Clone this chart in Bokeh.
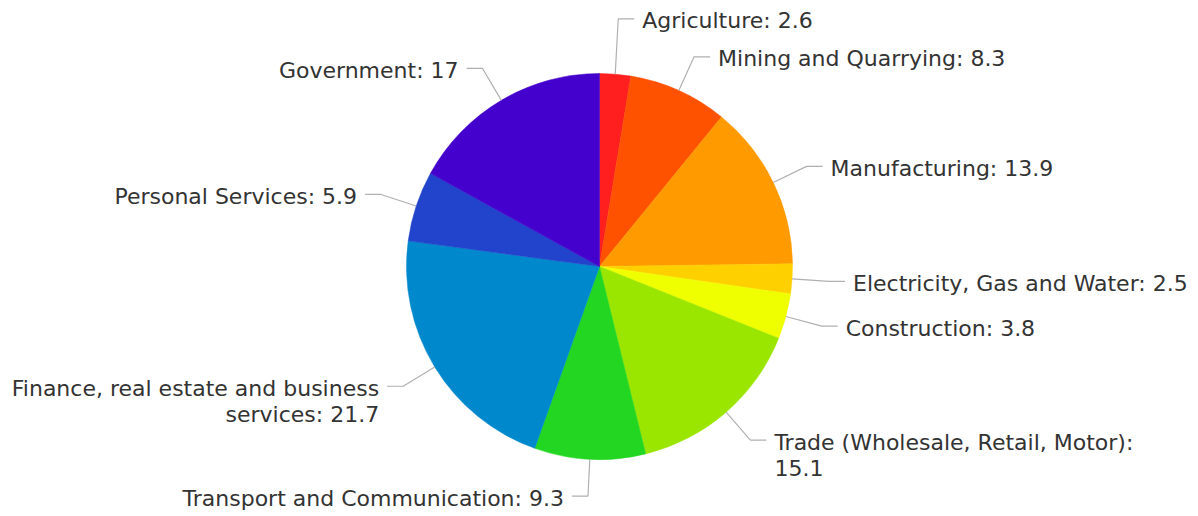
import math
import textwrap
from bokeh.plotting import figure
from bokeh.models import Range1d, ColumnDataSource
from bokeh.core.properties import value
from bokeh.embed import file_html
from bokeh.resources import INLINE

# ---- data ----
categories = [
    "Agriculture",
    "Mining and Quarrying",
    "Manufacturing",
    "Electricity, Gas and Water",
    "Construction",
    "Trade (Wholesale, Retail, Motor)",
    "Transport and Communication",
    "Finance, real estate and business services",
    "Personal Services",
    "Government",
]
values = [2.6, 8.3, 13.9, 2.5, 3.8, 15.1, 9.3, 21.7, 5.9, 17]
colors = [
    "#ff1f1f", "#ff5200", "#ff9a00", "#ffd000", "#f0ff00",
    "#9be600", "#22d622", "#0088cc", "#2244cc", "#4400cc",
]

# ---- layout ----
W, H = 1198, 516
CX, CY = 599, 516 - 266
R = 193
ELBOW = 37
HSEG = 16
GAP = 8
FONT_PX = 22
LINE_H = 26
TEXT_DROP = 2
MIN_SEP = 38

total = sum(values)
p = figure(width=W, height=H, x_range=Range1d(0, W), y_range=Range1d(0, H),
           output_backend="svg", toolbar_location=None, min_border=0)
p.axis.visible = False
p.grid.visible = False
p.outline_line_color = None
p.background_fill_color = "white"

starts, ends, mids = [], [], []
cum = 0.0
for v in values:
    a0 = math.pi / 2 - 2 * math.pi * (cum + v) / total
    a1 = math.pi / 2 - 2 * math.pi * cum / total
    starts.append(a0)
    ends.append(a1)
    mids.append((a0 + a1) / 2)
    cum += v

src = ColumnDataSource(dict(x=[CX] * len(values), y=[CY] * len(values),
                            s=starts, e=ends, c=colors))
p.wedge(x="x", y="y", radius=R, start_angle="s", end_angle="e",
        fill_color="c", line_color="c", line_width=0.5, source=src)

# label placement
items = []
for i, (cat, v, m) in enumerate(zip(categories, values, mids)):
    dx, dy = math.cos(m), math.sin(m)
    ex, ey = CX + R * dx, CY + R * dy
    bx, by = CX + (R + ELBOW) * dx, CY + (R + ELBOW) * dy
    side = 1 if dx >= 0.01 else -1
    items.append(dict(i=i, ex=ex, ey=ey, bx=bx, by=by, side=side,
                      text=f"{cat}: {v:g}"))

# simple collision resolution per side (push upward from bottom)
for side in (1, -1):
    group = sorted([it for it in items if it["side"] == side], key=lambda t: t["by"])
    for k in range(1, len(group)):
        if group[k]["by"] - group[k - 1]["by"] < MIN_SEP:
            group[k]["by"] = group[k - 1]["by"] + MIN_SEP
    top_y = H - 18
    for k in range(len(group) - 1, -1, -1):
        if group[k]["by"] > top_y:
            group[k]["by"] = top_y
        top_y = group[k]["by"] - MIN_SEP

lx, ly, tx, ty, tt, ta = [], [], [], [], [], []
for it in items:
    hx = it["bx"] + it["side"] * HSEG
    lx.append([it["ex"], it["bx"], hx])
    ly.append([it["ey"], it["by"], it["by"]])
    lines = textwrap.wrap(it["text"], 34)
    for j, line in enumerate(lines):
        tx.append(hx + it["side"] * GAP)
        ty.append(it["by"] - TEXT_DROP - j * LINE_H)
        tt.append(line)
        ta.append("left" if it["side"] == 1 else "right")

p.multi_line(xs=lx, ys=ly, line_color="#b0b0b0", line_width=1.2)
tsrc = ColumnDataSource(dict(x=tx, y=ty, t=tt, a=ta))
p.text(x="x", y="y", text="t", text_align="a", text_baseline="middle",
       text_font=value("DejaVu Sans"), text_font_size=f"{FONT_PX}px",
       text_color="#333333", source=tsrc)

open("out.html", "w").write(file_html(p, INLINE))
